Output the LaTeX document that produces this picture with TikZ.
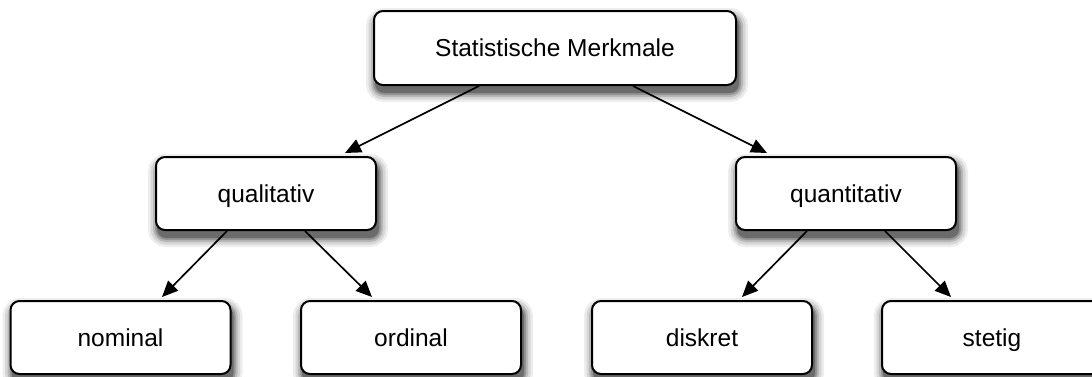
\documentclass[tikz,border=0pt]{standalone}
\usepackage{fontspec}
\setmainfont{Liberation Sans}
\usetikzlibrary{arrows.meta,backgrounds}
\tikzset{
  box/.style={draw=black, line width=2pt, fill=white, rounded corners=9pt,
    minimum height=73pt, inner sep=0pt, text height=17.5pt, text depth=0pt,
    font=\fontsize{24.5}{29}\selectfont},
  shadowline/.style={rounded corners=9pt},
  conn/.style={line width=1.7pt, -{Triangle[length=16pt,width=14pt]}}
}
\newcommand{\boxshadow}[1]{%
  \foreach \w/\c in {18/7,13/16,8/28,4/42}{%
    \draw[shadowline, black!\c, line width=\w pt] ([shift={(2pt,-7pt)}]#1.south west) rectangle ([shift={(2pt,-7pt)}]#1.north east);}%
  \fill[shadowline, black!58] ([shift={(2pt,-7pt)}]#1.south west) rectangle ([shift={(2pt,-7pt)}]#1.north east);%
}
\begin{document}
\begin{tikzpicture}[x=1pt,y=1pt]
\useasboundingbox (0,0) rectangle (1092,-376);
\node[box, minimum width=362pt, minimum height=74pt] (top) at (555,-48) {Statistische Merkmale};
\node[box, minimum width=220pt] (qual) at (266,-193.5) {qualitativ};
\node[box, minimum width=220pt] (quant) at (846,-193.5) {quantitativ};
\node[box, minimum width=220pt] (nom) at (120.5,-337.5) {nominal};
\node[box, minimum width=220pt] (ord) at (411,-337.5) {ordinal};
\node[box, minimum width=220pt] (dis) at (702,-337.5) {diskret};
\node[box, minimum width=220pt] (ste) at (992,-337.5) {stetig};
\begin{scope}[on background layer]
\boxshadow{top}\boxshadow{qual}\boxshadow{quant}\boxshadow{nom}\boxshadow{ord}\boxshadow{dis}\boxshadow{ste}
\end{scope}
\draw[conn] ([xshift=-76pt]top.south) -- ([xshift=79pt,yshift=3pt]qual.north);
\draw[conn] ([xshift=78pt]top.south) -- ([xshift=-79pt,yshift=3pt]quant.north);
\draw[conn] ([xshift=-39pt]qual.south) -- ([xshift=41.5pt,yshift=3pt]nom.north);
\draw[conn] ([xshift=39pt]qual.south) -- ([xshift=-39pt,yshift=3pt]ord.north);
\draw[conn] ([xshift=-39pt]quant.south) -- ([xshift=40pt,yshift=3pt]dis.north);
\draw[conn] ([xshift=39pt]quant.south) -- ([xshift=-41pt,yshift=3pt]ste.north);
\end{tikzpicture}
\end{document}
